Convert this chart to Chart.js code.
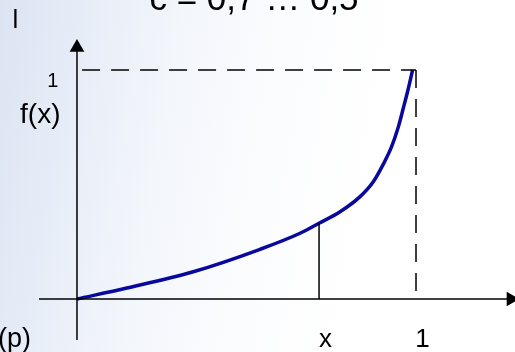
<!DOCTYPE html>
<html lang="de">
<head>
    <meta charset="UTF-8">
    <title>f(x)</title>
    <script src="https://cdn.jsdelivr.net/npm/chart.js"></script>
    <style>
        body { margin: 0; }
        .wrap {
            width: 515px; height: 352px;
            background: linear-gradient(100deg, #dce4f2 0%, #e6ecf7 14%, #f3f6fb 32%, #fbfcfe 50%, #ffffff 70%);
        }
        canvas { display: block; }
    </style>
</head>
<body>
    <div class="wrap"><canvas id="myChart" width="515" height="352"></canvas></div>

    <script>
        // Kurve
        const curveX = [0, 0.147, 0.343, 0.540, 0.658, 0.714, 0.776, 0.835, 0.874, 0.904, 0.928, 0.948, 0.963, 0.975, 0.990];
        const curveY = [0, 0.048, 0.119, 0.217, 0.287, 0.331, 0.381, 0.447, 0.512, 0.590, 0.665, 0.752, 0.836, 0.905, 1.0];

        // Markierung bei x
        const markX = 0.714;
        const markY = 0.331;

        // Achsen-Enden
        const xAxisRange = [-0.112, 1.280];
        const yAxisRange = [-0.179, 1.098];

        // Beschriftungen
        const titleText = 'c = 0,7 … 0,5';
        const yTickLabels = ['1'];
        const yTickValues = [1];
        const xTickLabels = ['x', '1'];
        const xTickValues = [markX, 1];

        const pts = (xs, ys) => xs.map((v, i) => ({x: v, y: ys[i]}));

        const labelPlugin = {
            id: 'labels',
            afterDraw(chart) {
                const {ctx, scales: {x, y}} = chart;
                const x0 = x.getPixelForValue(0);
                ctx.save();
                ctx.fillStyle = '#000';
                ctx.textBaseline = 'alphabetic';
                const font = s => s + 'px "Liberation Sans", Arial, sans-serif';

                // Titel (oben abgeschnitten)
                ctx.font = font(35);
                ctx.textAlign = 'center';
                ctx.fillText(titleText, 254, 10);

                ctx.font = font(26);
                ctx.textAlign = 'left';
                ctx.fillText('l', 12.5, 28);

                // y-Achse
                ctx.font = font(20);
                ctx.textAlign = 'right';
                yTickLabels.forEach((t, i) => {
                    ctx.fillText(t, x0 - 18.5, y.getPixelForValue(yTickValues[i]) + 17);
                });
                ctx.font = font(28);
                ctx.fillText('f(x)', x0 - 16.5, 123);

                // x-Achse
                ctx.font = font(26);
                ctx.textAlign = 'center';
                xTickLabels.forEach((t, i) => {
                    ctx.fillText(t, x.getPixelForValue(xTickValues[i]) + 6.5, 347);
                });

                ctx.font = font(27);
                ctx.textAlign = 'right';
                ctx.fillText('(p)', 31, 347);
                ctx.restore();
            }
        };

        const black = {borderColor: '#000', borderWidth: 1.5, pointRadius: 0, fill: false};

        const data = {
            datasets: [
                {...black, data: [{x: xAxisRange[0], y: 0}, {x: xAxisRange[1], y: 0}]},
                {...black, data: [{x: 0, y: yAxisRange[0]}, {x: 0, y: yAxisRange[1]}]},
                {...black, borderDash: [18, 11], data: [{x: 0.015, y: 1}, {x: 1, y: 1}]},
                {...black, borderDash: [18, 11], data: [{x: 1, y: 1}, {x: 1, y: 0}]},
                {...black, data: [{x: markX, y: 0}, {x: markX, y: markY}]},
                {
                    data: pts(curveX, curveY),
                    borderColor: '#08089c',
                    borderWidth: 3.5,
                    borderJoinStyle: 'round',
                    pointRadius: 0,
                    cubicInterpolationMode: 'monotone'
                },
                {
                    // Pfeilspitzen
                    data: [{x: 0, y: yAxisRange[1]}, {x: xAxisRange[1], y: 0}],
                    showLine: false,
                    pointStyle: 'triangle',
                    pointRadius: 8.5,
                    pointRotation: [0, 90],
                    backgroundColor: '#000',
                    borderWidth: 0
                }
            ]
        };

        const options = {
            responsive: false,
            animation: false,
            layout: {padding: 0, autoPadding: false},
            plugins: {legend: {display: false}, tooltip: {enabled: false}},
            scales: {
                x: {type: 'linear', display: false, min: -0.2271, max: 1.2920},
                y: {type: 'linear', display: false, min: -0.2314, max: 1.3057}
            }
        };

        const ctx = document.querySelector('#myChart').getContext('2d');
        const myChart = new Chart(ctx, {
            type: 'line',
            data: data,
            options: options,
            plugins: [labelPlugin]
        });
    </script>
</body>
</html>
